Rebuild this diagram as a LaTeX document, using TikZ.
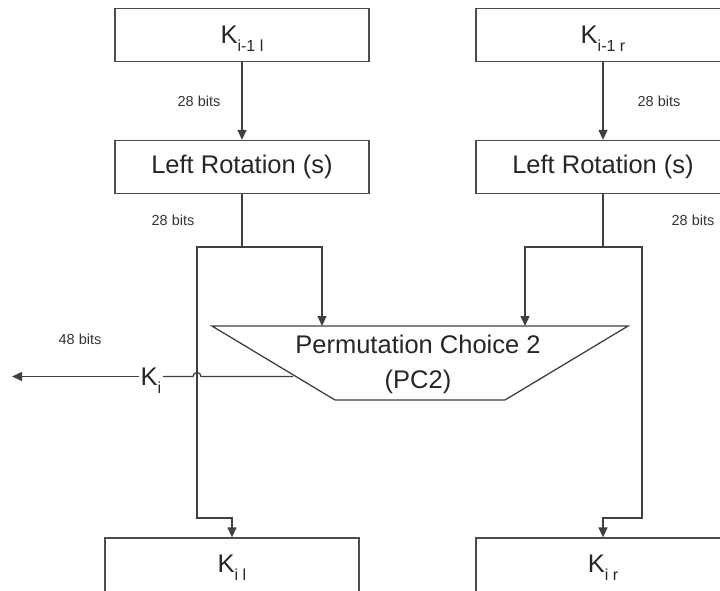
\documentclass[tikz,border=0pt]{standalone}
\usepackage{fontspec}
\setmainfont{Liberation Sans}
\usetikzlibrary{arrows.meta}
\newcommand\Ksub[1]{K\raisebox{-8pt}[0pt][0pt]{\fontsize{16}{16}\selectfont #1}}
\begin{document}
\begin{tikzpicture}[x=1pt,y=-1pt,
  box/.style={draw=black!70, line width=1.3pt, minimum width=254pt, minimum height=53pt,
    inner sep=0pt, font=\fontsize{25.5}{28}\selectfont, text=black!85},
  wire/.style={draw=black!75, line width=1.3pt},
  arr/.style={wire, -{Triangle[length=10pt,width=9pt]}},
  bits/.style={font=\fontsize{14.5}{16}\selectfont, text=black!80, inner sep=0pt},
  big/.style={font=\fontsize{25.5}{35}\selectfont, text=black!85}]
\useasboundingbox (0,0) rectangle (720,591);
\clip (0,0) rectangle (720,591);

% boxes
\node[box] (k1l) at (242,35) {\Ksub{i-1 l}};
\node[box] (lrl) at (242,167) {Left Rotation (s)};
\node[box] (k1r) at (603,35) {\Ksub{i-1 r}};
\node[box] (lrr) at (603,167) {Left Rotation (s)};
\node[box, minimum height=54pt] (kil) at (232,565) {\raisebox{3pt}{\Ksub{i l}}};
\node[box, minimum height=54pt] (kir) at (603,565) {\raisebox{3pt}{\Ksub{i r}}};

% PC2 trapezoid
\coordinate (ta) at (212,326);
\coordinate (tb) at (628,326);
\coordinate (tc) at (505,400);
\coordinate (td) at (335,400);
\draw[draw=black!75, line width=1.3pt] (ta) -- (tb) -- (tc) -- (td) -- cycle;
\node[big, align=center] (pc2) at (418,364) {Permutation Choice 2\\(PC2)};
\coordinate (pcl) at (322,326);
\coordinate (pcr) at (525,326);

% labels
\node[bits] (b1) at (199,101) {28 bits};
\node[bits] (b2) at (659,101) {28 bits};
\node[bits] (b3) at (173,220) {28 bits};
\node[bits] (b4) at (693,220) {28 bits};
\node[bits] (b5) at (80,339) {48 bits};

% left chain
\draw[arr] (k1l.south) -- (lrl.north);
\coordinate (jl) at (242,247);
\coordinate (bl) at (197,518);
\draw[wire] (lrl.south) -- (jl);
\draw[arr] (jl) -| (pcl);
\draw[arr] (jl) -| (bl) -| (kil.north);

% right chain
\draw[arr] (k1r.south) -- (lrr.north);
\coordinate (jr) at (603,247);
\coordinate (br) at (642,518);
\draw[wire] (lrr.south) -- (jr);
\draw[arr] (jr) -| (pcr);
\draw[arr] (jr) -| (br) -| (kir.north);

% Ki output
\coordinate (kout) at (293,376.5);
\coordinate (tip) at (12,376.5);
\node[big, inner sep=1.5pt] (ki) at (151,376.5) {\Ksub{i}};
\draw[wire] (kout) -- (201,376.5) arc[start angle=0, end angle=180, radius=4pt] -- (ki.east);
\draw[arr] (ki.west) -- (tip);
\end{tikzpicture}
\end{document}
